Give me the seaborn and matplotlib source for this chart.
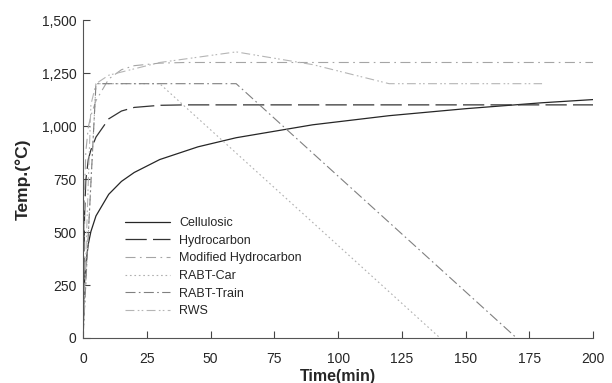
import numpy as np
import pandas as pd
import seaborn as sns
import matplotlib.pyplot as plt
from matplotlib.ticker import StrMethodFormatter

# Fire curves (time in min, temperature in degC)
cell_t = [0, 0.25, 0.5, 1, 2, 3, 5, 10, 15, 20, 30, 45, 60, 90, 120, 150, 180, 200]
cell_T = [20, 185, 261, 349, 444, 502, 576, 678, 739, 781, 842, 902, 945, 1006, 1049, 1082, 1110, 1125]

hc_t = [0, 0.5, 1, 2, 3, 5, 10, 15, 20, 30, 40, 200]
hc_T = [20, 569, 743, 843, 887, 948, 1034, 1071, 1088, 1098, 1100, 1100]

mhc_t = [0, 0.5, 1, 2, 3, 5, 10, 15, 20, 30, 40, 200]
mhc_T = [20, 670, 877, 996, 1048, 1120, 1222, 1266, 1285, 1297, 1300, 1300]

car_t = [0, 5, 30, 140]
car_T = [20, 1200, 1200, 0]

train_t = [0, 5, 60, 170]
train_T = [20, 1200, 1200, 0]

rws_t = [0, 3, 5, 10, 30, 60, 90, 120, 180]
rws_T = [20, 1100, 1200, 1240, 1300, 1350, 1290, 1200, 1200]

series = [
    ("Cellulosic", cell_t, cell_T, "#262626", "-", 0.9),
    ("Hydrocarbon", hc_t, hc_T, "#333333", (0, (17, 5)), 0.9),
    ("Modified Hydrocarbon", mhc_t, mhc_T, "#a5a5a5", (0, (9, 4, 1.5, 4)), 0.8),
    ("RABT-Car", car_t, car_T, "#b0b0b0", (0, (1.5, 2.5)), 0.8),
    ("RABT-Train", train_t, train_T, "#808080", (0, (9, 3, 1.5, 3)), 0.8),
    ("RWS", rws_t, rws_T, "#b5b5b5", (0, (8, 3, 1.5, 2, 1.5, 3)), 0.8),
]

sns.set_theme(style="ticks")
plt.rcParams['font.family'] = ['Liberation Sans', 'DejaVu Sans']

fig = plt.figure(figsize=(6.12, 3.83), dpi=100)
ax = fig.add_axes([0.136, 0.1175, 0.833, 0.83])

for name, t, T, col, ls, lw in series:
    df = pd.DataFrame({"t": t, "T": T})
    sns.lineplot(data=df, x="t", y="T", ax=ax, color=col, linestyle=ls,
                 linewidth=lw, label=name, sort=False)

ax.set_xlim(0, 200)
ax.set_ylim(0, 1500)
ax.set_xticks(np.arange(0, 201, 25))
ax.set_yticks(np.arange(0, 1501, 250))
ax.yaxis.set_major_formatter(StrMethodFormatter("{x:,.0f}"))
ax.tick_params(axis='both', direction='in', length=5, width=0.8,
               labelsize=10, color="#444444")
ax.tick_params(axis='x', pad=10)
ax.tick_params(axis='y', pad=5)
for s in ["top", "right"]:
    ax.spines[s].set_visible(False)
for s in ["left", "bottom"]:
    ax.spines[s].set_color("#555555")
    ax.spines[s].set_linewidth(0.8)

ax.set_xlabel("Time(min)", fontsize=11.5, fontweight="bold", labelpad=2)
ax.set_ylabel("Temp.(°C)", fontsize=12.5, fontweight="bold", labelpad=8)

ax.legend(loc="upper left", bbox_to_anchor=(0.069, 0.40), frameon=False,
          fontsize=9, handlelength=3.6, handletextpad=0.75, labelspacing=0.45,
          borderpad=0)

plt.savefig("out.png", dpi=100)
